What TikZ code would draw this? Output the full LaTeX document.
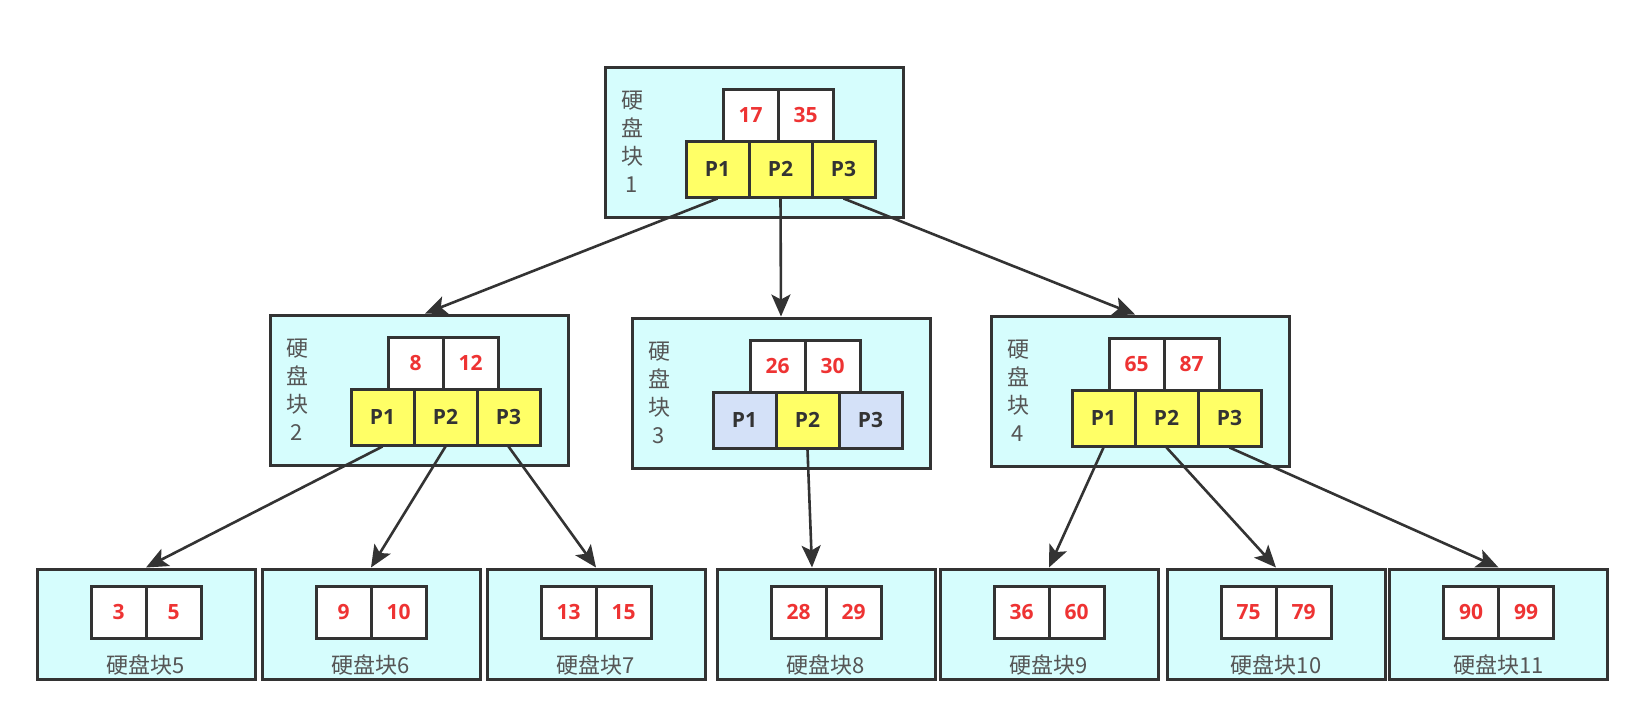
\documentclass[tikz,border=0pt]{standalone}
\usepackage{fontspec}
\setmainfont{Open Sans}
\newfontfamily\cjk{Noto Sans CJK SC}
\usepackage{tikz}
\usetikzlibrary{arrows.meta}
\usetikzlibrary{positioning}
\definecolor{diskcyan}{HTML}{D6FDFD}
\definecolor{ptryellow}{HTML}{FFFF66}
\definecolor{nodeblue}{HTML}{D4E1F8}
\definecolor{keyred}{HTML}{EE3333}
\definecolor{linegray}{HTML}{333333}
\definecolor{labelgray}{HTML}{555555}
\tikzset{
disk/.style={draw=linegray, line width=1.5pt, fill=diskcyan, rectangle, minimum width=149pt, minimum height=75pt},
leaf/.style={disk, minimum width=109pt, minimum height=55pt},
keycell/.style={draw=linegray, line width=1.5pt, fill=white, rectangle, inner sep=0pt, minimum width=27.5pt, minimum height=26pt, text=keyred, font=\fontsize{10.5}{12}\selectfont\bfseries},
ptrcell/.style={draw=linegray, line width=1.5pt, fill=ptryellow, rectangle, inner sep=0pt, minimum width=31.5pt, minimum height=28pt, text=linegray, font=\fontsize{10.5}{12}\selectfont\bfseries},
ptrblue/.style={ptrcell, fill=nodeblue},
disklabel/.style={text=labelgray, font=\cjk\fontsize{11}{14}\selectfont, align=center, inner sep=0pt},
link/.style={draw=linegray, line width=1.3pt, -{Stealth[length=11pt, width=9.5pt, inset=2.5pt]}},
}

\begin{document}
\begin{tikzpicture}[x=0.5pt, y=-0.5pt]
\useasboundingbox (0,0) rectangle (1642,724);

% root
\node[disk] (b1) at (754,142) {};
\node[disklabel] (b1lab) at (632,142) {硬\\盘\\块\\1};
\node[keycell] (b1k1) at (750.5,115) {17};
\node[keycell] (b1k2) at (805.5,115) {35};
\node[ptrcell] (b1p1) at (717.5,169) {P1};
\node[ptrcell] (b1p2) at (780.5,169) {P2};
\node[ptrcell] (b1p3) at (843.5,169) {P3};

% second level
\node[disk] (b2) at (419,390) {};
\node[disklabel] (b2lab) at (297,390) {硬\\盘\\块\\2};
\node[keycell] (b2k1) at (415.5,363) {8};
\node[keycell] (b2k2) at (470.5,363) {12};
\node[ptrcell] (b2p1) at (382.5,417) {P1};
\node[ptrcell] (b2p2) at (445.5,417) {P2};
\node[ptrcell] (b2p3) at (508.5,417) {P3};

\node[disk] (b3) at (781,393) {};
\node[disklabel] (b3lab) at (659,393) {硬\\盘\\块\\3};
\node[keycell] (b3k1) at (777.5,366) {26};
\node[keycell] (b3k2) at (832.5,366) {30};
\node[ptrblue] (b3p1) at (744.5,420) {P1};
\node[ptrcell] (b3p2) at (807.5,420) {P2};
\node[ptrblue] (b3p3) at (870.5,420) {P3};

\node[disk] (b4) at (1140,391) {};
\node[disklabel] (b4lab) at (1018,391) {硬\\盘\\块\\4};
\node[keycell] (b4k1) at (1136.5,364) {65};
\node[keycell] (b4k2) at (1191.5,364) {87};
\node[ptrcell] (b4p1) at (1103.5,418) {P1};
\node[ptrcell] (b4p2) at (1166.5,418) {P2};
\node[ptrcell] (b4p3) at (1229.5,418) {P3};

% leaves
\node[leaf] (b5) at (146,624) {};
\node[keycell] (b5k1) at (118.5,612) {3};
\node[keycell] (b5k2) at (173.5,612) {5};
\node[disklabel] (b5lab) at (146,665) {硬盘块5};

\node[leaf] (b6) at (371,624) {};
\node[keycell] (b6k1) at (343.5,612) {9};
\node[keycell] (b6k2) at (398.5,612) {10};
\node[disklabel] (b6lab) at (371,665) {硬盘块6};

\node[leaf] (b7) at (596,624) {};
\node[keycell] (b7k1) at (568.5,612) {13};
\node[keycell] (b7k2) at (623.5,612) {15};
\node[disklabel] (b7lab) at (596,665) {硬盘块7};

\node[leaf] (b8) at (826,624) {};
\node[keycell] (b8k1) at (798.5,612) {28};
\node[keycell] (b8k2) at (853.5,612) {29};
\node[disklabel] (b8lab) at (826,665) {硬盘块8};

\node[leaf] (b9) at (1049,624) {};
\node[keycell] (b9k1) at (1021.5,612) {36};
\node[keycell] (b9k2) at (1076.5,612) {60};
\node[disklabel] (b9lab) at (1049,665) {硬盘块9};

\node[leaf] (b10) at (1276,624) {};
\node[keycell] (b10k1) at (1248.5,612) {75};
\node[keycell] (b10k2) at (1303.5,612) {79};
\node[disklabel] (b10lab) at (1276,665) {硬盘块10};

\node[leaf] (b11) at (1498.5,624) {};
\node[keycell] (b11k1) at (1471,612) {90};
\node[keycell] (b11k2) at (1526,612) {99};
\node[disklabel] (b11lab) at (1498.5,665) {硬盘块11};

% pointers
\draw[link] (b1p1.south) -- ([xshift=3pt]b2.north);
\draw[link] (b1p2.south) -- (b3.north);
\draw[link] (b1p3.south) -- ([xshift=-2.5pt]b4.north);

\draw[link] (b2p1.south) -- (b5.north);
\draw[link] (b2p2.south) -- (b6.north);
\draw[link] (b2p3.south) -- (b7.north);

\draw[link] (b3p2.south) -- ([xshift=-7pt]b8.north);

\draw[link] (b4p1.south) -- (b9.north);
\draw[link] (b4p2.south) -- (b10.north);
\draw[link] (b4p3.south) -- (b11.north);

\end{tikzpicture}
\end{document}
